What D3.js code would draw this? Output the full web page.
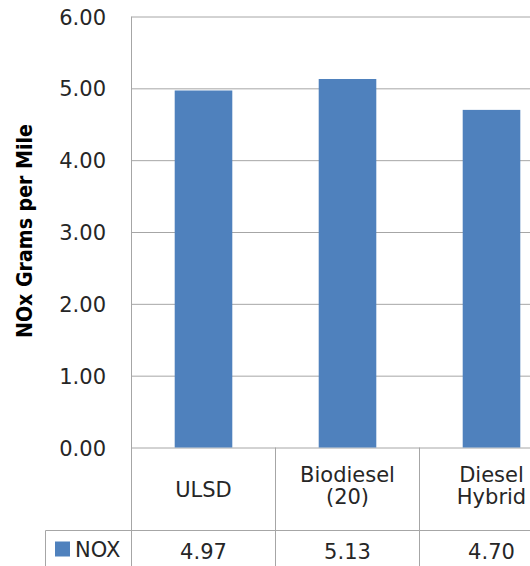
<!DOCTYPE html>
<html>
<head>
<meta charset="utf-8">
<script src="https://cdn.jsdelivr.net/npm/d3@7"></script>
<style>
  html, body { margin: 0; padding: 0; background: #fff; overflow: hidden; }
  svg { display: block; }
  text { font-family: "DejaVu Sans", sans-serif; fill: #262626; }
</style>
</head>
<body>
<svg id="chart" width="530" height="566"></svg>
<script>
// NOx emissions by fuel type (grams per mile)
const categories = ["ULSD", "Biodiesel (20)", "Diesel Hybrid"];
const categoryLines = [["ULSD"], ["Biodiesel", "(20)"], ["Diesel", "Hybrid"]];
const noxValues = [4.97, 5.13, 4.70];
const yTicks = [0, 1, 2, 3, 4, 5, 6];
const seriesName = "NOX";
const yTitle = "NOx Grams per Mile";

const svg = d3.select("#chart");
const gridColor = "#a6a6a6";
const barColor = "#4f81bd";

const plotLeft = 131.5;
const step = 144;
const yBottom = 447.5, yTop = 16.5;
const tableBottom = 600, legendTop = 530.5, legendLeft = 45.5;

const x = d3.scaleBand()
  .domain(categories)
  .range([plotLeft, plotLeft + step * categories.length])
  .paddingInner(0.6)
  .paddingOuter(0.3);

const y = d3.scaleLinear().domain([0, 6]).range([yBottom, yTop]);

// horizontal gridlines via axis
const gridAxis = d3.axisRight(y)
  .tickValues(yTicks)
  .tickSize(x.range()[1] - plotLeft)
  .tickFormat("");
const grid = svg.append("g").attr("transform", `translate(${plotLeft},0)`).call(gridAxis);
grid.select(".domain").remove();
grid.selectAll("line").attr("stroke", gridColor).attr("stroke-width", 1);

// y tick labels
const yAxis = d3.axisLeft(y).tickValues(yTicks).tickSize(0).tickPadding(0).tickFormat(d3.format(".2f"));
const ya = svg.append("g").attr("transform", "translate(106,0)").call(yAxis);
ya.select(".domain").remove();
ya.selectAll("text")
  .attr("font-size", 21)
  .attr("font-family", "DejaVu Sans, sans-serif")
  .attr("fill", "#262626")
  .attr("dy", "0.36em");

// bars
svg.append("g").selectAll("rect")
  .data(categories)
  .join("rect")
  .attr("x", d => x(d))
  .attr("width", x.bandwidth())
  .attr("y", (d, i) => y(noxValues[i]))
  .attr("height", (d, i) => y(0) - y(noxValues[i]))
  .attr("fill", barColor);

// vertical value axis line
svg.append("line")
  .attr("x1", plotLeft).attr("x2", plotLeft)
  .attr("y1", yTop).attr("y2", tableBottom)
  .attr("stroke", gridColor);

// data table: column separators at band boundaries
const bandEdge = d => x(d) + x.bandwidth() / 2 + step / 2;
svg.append("g").selectAll("line")
  .data(categories)
  .join("line")
  .attr("x1", d => bandEdge(d)).attr("x2", d => bandEdge(d))
  .attr("y1", yBottom).attr("y2", tableBottom)
  .attr("stroke", gridColor);

// row separator and legend cell
svg.append("line")
  .attr("x1", legendLeft).attr("x2", x.range()[1])
  .attr("y1", legendTop).attr("y2", legendTop)
  .attr("stroke", gridColor);
svg.append("line")
  .attr("x1", legendLeft).attr("x2", legendLeft)
  .attr("y1", legendTop).attr("y2", tableBottom)
  .attr("stroke", gridColor);

// category labels
const catG = svg.append("g").selectAll("text")
  .data(categories)
  .join("text")
  .attr("text-anchor", "middle")
  .attr("font-size", 21)
  .attr("transform", (d, i) => {
    const n = categoryLines[i].length;
    const base = n === 1 ? 497 : 482;
    return `translate(${x(d) + x.bandwidth() / 2},${base})`;
  });
catG.selectAll("tspan")
  .data((d, i) => categoryLines[i])
  .join("tspan")
  .attr("x", 0)
  .attr("y", (d, j) => j * 22)
  .text(d => d);

// values row
svg.append("g").selectAll("text")
  .data(categories)
  .join("text")
  .attr("text-anchor", "middle")
  .attr("font-size", 21)
  .attr("x", d => x(d) + x.bandwidth() / 2)
  .attr("y", 559)
  .text((d, i) => d3.format(".2f")(noxValues[i]));

// legend key
svg.append("rect")
  .attr("x", 55).attr("y", 541.5)
  .attr("width", 15).attr("height", 15)
  .attr("fill", barColor);
svg.append("text")
  .attr("x", 75).attr("y", 556.5)
  .attr("font-size", 21)
  .text(seriesName);

// y axis title
svg.append("text")
  .attr("transform", "translate(31.5,231) rotate(-90)")
  .attr("text-anchor", "middle")
  .attr("font-family", "'Open Sans', sans-serif")
  .attr("font-size", 22)
  .attr("font-weight", "bold")
  .attr("textLength", 214)
  .attr("lengthAdjust", "spacingAndGlyphs")
  .style("fill", "#000")
  .text(yTitle);
</script>
</body>
</html>
